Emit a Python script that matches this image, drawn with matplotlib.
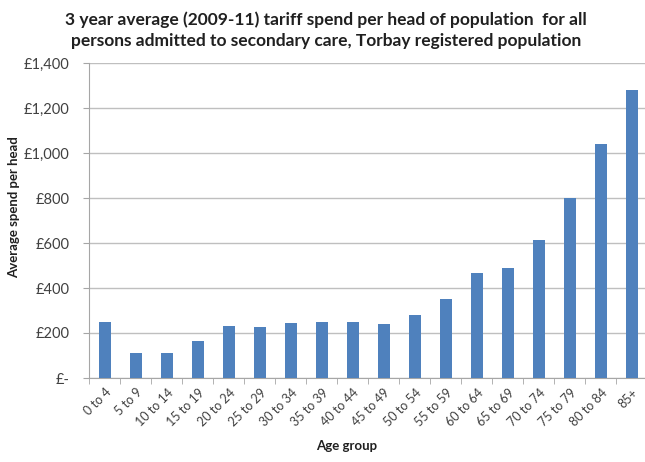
import matplotlib
matplotlib.use("Agg")
import matplotlib.pyplot as plt
from matplotlib.ticker import FuncFormatter, FixedLocator

age_groups = ["0 to 4", "5 to 9", "10 to 14", "15 to 19", "20 to 24", "25 to 29",
              "30 to 34", "35 to 39", "40 to 44", "45 to 49", "50 to 54", "55 to 59",
              "60 to 64", "65 to 69", "70 to 74", "75 to 79", "80 to 84", "85+"]
spend_per_head = [250, 109, 109, 164, 231, 227, 244, 247, 247, 241, 282, 350,
                  466, 491, 612, 800, 1039, 1279]

title = ("3 year average (2009-11) tariff spend per head of population  for all\n"
         "persons admitted to secondary care, Torbay registered population")

plt.rcParams['font.family'] = ['Lato', 'DejaVu Sans']

W, H = 645, 462
fig = plt.figure(figsize=(W / 100, H / 100), dpi=100)
left, right, top, bottom = 89.3, 647.3, 63, 378
ax = fig.add_axes([left / W, 1 - bottom / H, (right - left) / W, (bottom - top) / H])

x = list(range(len(age_groups)))
ax.bar(x, spend_per_head, width=0.38, color="#4F81BD", zorder=3)

ax.set_xlim(-0.5, len(age_groups) - 0.5)
ax.set_ylim(0, 1400)
ax.set_yticks(range(0, 1401, 200))
ax.yaxis.set_major_formatter(FuncFormatter(lambda v, p: "£-" if v == 0 else f"£{v:,.0f}"))
ax.grid(axis="y", color="#BFBFBF", linewidth=1, zorder=0)

ax.set_xticks(x)
ax.set_xticklabels(age_groups, rotation=45, ha="right", rotation_mode="anchor")
ax.xaxis.set_minor_locator(FixedLocator([i - 0.5 for i in range(len(age_groups) + 1)]))
ax.tick_params(axis="x", which="major", length=0, pad=6, labelsize=9, labelcolor="#404040")
ax.tick_params(axis="x", which="minor", length=4, color="#A6A6A6", direction="out")
ax.tick_params(axis="y", length=4, color="#A6A6A6", labelsize=10.5, labelcolor="#404040", pad=10)

for side in ("top", "right"):
    ax.spines[side].set_visible(False)
for side in ("left", "bottom"):
    ax.spines[side].set_color("#A6A6A6")

fig.text(14 / W, 1 - 207 / H, "Average spend per head", ha="center", va="center",
         rotation=90, fontsize=9.5, fontweight="bold", color="#202020")
fig.text(346.7 / W, 1 - 446 / H, "Age group", ha="center", va="center",
         fontsize=9.5, fontweight="bold", color="#202020")

fig.text(0.505, 0.975, title, ha="center", va="top", fontsize=12.5, fontweight="bold",
         color="#202020", linespacing=1.35)

fig.savefig("out.png", dpi=100)
